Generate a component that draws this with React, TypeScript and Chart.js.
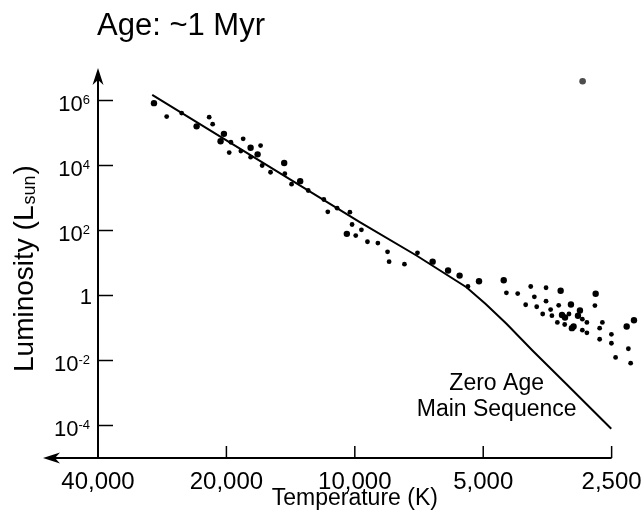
import { useEffect, useRef } from 'react';
import { Chart, registerables } from 'chart.js';

Chart.register(...registerables);

// ---------- text ----------
const chartTitle = 'Age: ~1 Myr';
const xAxisTitle = 'Temperature (K)';
const yAxisTitleMain = 'Luminosity (L';
const yAxisTitleSub = 'sun';
const yAxisTitleEnd = ')';
const annotationLines = ['Zero Age', 'Main Sequence'];

// ---------- axes ----------
const tempMin = 2180; // scale extends a little past the last tick (coolest stars)
const tempMax = 40000;
const lumMin = 1e-5;
const lumMax = 1e7;
const tempTicks = [40000, 20000, 10000, 5000, 2500];
const tempTickLabels = ['40,000', '20,000', '10,000', '5,000', '2,500'];
const lumTickExponents = [6, 4, 2, 0, -2, -4];

// ---------- Zero Age Main Sequence ----------
const zamsTemp = [29850, 9735, 7170, 5474, 4934, 4410, 3828, 3193, 2505];
const zamsLum = [1.5e6, 180, 17, 1.8, 0.55, 0.135, 0.02, 1.9e-3, 7.9e-5];

// annotation anchor (data coordinates)
const annotationTemp = 4650;
const annotationLum = 1.24e-3;

// ---------- stars (larger dots) ----------
const starTempLarge = [
  29570, 23490, 20270, 20640, 17550, 16900, 14640, 13430, 10440, 6570,
  6045, 5680, 5115, 4476, 3292, 3114, 3268, 3215, 2966, 2998,
  3070, 3098, 2725, 2305, 2216,
];
const starLumLarge = [
  8.3e5, 1.6e5, 9.4e4, 5.6e4, 3.5e4, 2.2e4, 1.2e4, 3.3e3, 79, 11,
  5.9, 4.1, 2.75, 2.96, 1.4, 0.53, 0.25, 0.21, 0.345, 0.237,
  0.111, 0.099, 1.13, 0.111, 0.174,
];

// ---------- stars (smaller dots) ----------
const starTempSmall = [
  27610, 25470, 21950, 21540, 19520, 19700, 18270, 18500, 17550, 16630,
  16490, 15760, 14590, 14070, 12860, 11820, 11570, 11000, 10270, 10150,
  9950, 9650, 9340, 8830, 8380, 8310, 7650, 7130, 5430, 4412,
  4151, 3869, 3794, 3562, 3562, 3976, 3746, 3475, 3327, 3627,
  3451, 3147, 2928, 3351, 3221, 2857, 2928, 2857, 2736, 2628,
  2667, 2667, 2503, 2503, 2447, 2284, 2256,
];
const starLumSmall = [
  3.2e5, 4.1e5, 3.06e5, 1.87e5, 5.2e4, 2.5e4, 6.6e4, 2.77e4, 1.8e4, 4.1e4,
  1.0e4, 6.2e3, 5.6e3, 2.66e3, 1.7e3, 900, 376, 485, 366, 153,
  70, 105, 45, 41, 22, 11, 9.2, 20.6, 1.9, 1.21,
  1.15, 1.89, 0.91, 1.73, 0.67, 0.52, 0.45, 0.37, 0.5, 0.27,
  0.24, 0.27, 0.187, 0.148, 0.128, 0.148, 0.0855, 0.071, 0.49, 0.148,
  0.099, 0.045, 0.064, 0.034, 0.0124, 0.023, 0.0083,
];

// ---------- outlier (grey) ----------
const outlierTemp = [2924];
const outlierLum = [3.93e6];

const FONT = '"Liberation Sans", Arial, Helvetica, sans-serif';

const toPoints = (xs: number[], ys: number[]) => xs.map((x, i) => ({ x, y: ys[i] }));

const hrPlugin = {
  id: 'hrDecor',
  afterDraw(chart: any) {
    const ctx: CanvasRenderingContext2D = chart.ctx;
    const xs = chart.scales.x;
    const ys = chart.scales.y;
    const x0 = xs.getPixelForValue(tempTicks[0]);
    const xEnd = xs.getPixelForValue(tempTicks[tempTicks.length - 1]);
    const yBase = ys.getPixelForValue(lumMin);
    const yTop = ys.getPixelForValue(lumMax);

    ctx.save();
    ctx.strokeStyle = '#000';
    ctx.fillStyle = '#000';

    // x axis line + arrow to the left
    const arrowX = x0 - 55;
    ctx.lineWidth = 2;
    ctx.beginPath();
    ctx.moveTo(xEnd, yBase);
    ctx.lineTo(arrowX + 8, yBase);
    ctx.stroke();
    ctx.beginPath();
    ctx.moveTo(arrowX, yBase);
    ctx.lineTo(arrowX + 17, yBase - 5.5);
    ctx.lineTo(arrowX + 12, yBase);
    ctx.lineTo(arrowX + 17, yBase + 5.5);
    ctx.closePath();
    ctx.fill();

    // y axis line + arrow up
    ctx.beginPath();
    ctx.moveTo(x0, yBase);
    ctx.lineTo(x0, yTop + 8);
    ctx.stroke();
    ctx.beginPath();
    ctx.moveTo(x0, yTop);
    ctx.lineTo(x0 - 5.5, yTop + 17);
    ctx.lineTo(x0, yTop + 12);
    ctx.lineTo(x0 + 5.5, yTop + 17);
    ctx.closePath();
    ctx.fill();

    // x ticks and labels
    ctx.lineWidth = 1.5;
    ctx.font = `24px ${FONT}`;
    ctx.textAlign = 'center';
    ctx.textBaseline = 'alphabetic';
    tempTicks.forEach((t, i) => {
      const px = xs.getPixelForValue(t);
      ctx.beginPath();
      ctx.moveTo(px, yBase);
      ctx.lineTo(px, yBase - 12);
      ctx.stroke();
      ctx.fillText(tempTickLabels[i], px, yBase + 31);
    });

    // y ticks and labels
    const labelRight = x0 - 8;
    lumTickExponents.forEach((e) => {
      const py = ys.getPixelForValue(Math.pow(10, e));
      ctx.beginPath();
      ctx.moveTo(x0, py);
      ctx.lineTo(x0 + 15, py);
      ctx.stroke();
      ctx.textAlign = 'right';
      if (e === 0) {
        ctx.font = `22px ${FONT}`;
        ctx.fillText('1', labelRight + 2, py + 8);
      } else {
        const sup = String(e);
        ctx.font = `13px ${FONT}`;
        const supW = ctx.measureText(sup).width;
        const base = py + 10;
        ctx.fillText(sup, labelRight, base - 6.5);
        ctx.font = `22px ${FONT}`;
        ctx.fillText('10', labelRight - supW, base);
      }
    });

    // x axis title
    ctx.textAlign = 'center';
    ctx.font = `23px ${FONT}`;
    ctx.fillText(xAxisTitle, (x0 + xEnd) / 2, yBase + 47);

    // y axis title (rotated)
    ctx.save();
    ctx.translate(32.5, 372);
    ctx.rotate(-Math.PI / 2);
    ctx.textAlign = 'left';
    ctx.font = `28px ${FONT}`;
    ctx.fillText(yAxisTitleMain, 0, 0);
    let w = ctx.measureText(yAxisTitleMain).width;
    ctx.font = `18px ${FONT}`;
    ctx.fillText(yAxisTitleSub, w + 1, 2);
    w += 1 + ctx.measureText(yAxisTitleSub).width;
    ctx.font = `28px ${FONT}`;
    ctx.fillText(yAxisTitleEnd, w + 1, 0);
    ctx.restore();

    // chart title
    ctx.textAlign = 'left';
    ctx.font = `31px ${FONT}`;
    ctx.fillText(chartTitle, x0 - 1, 35);

    // ZAMS annotation
    ctx.textAlign = 'center';
    ctx.font = `23px ${FONT}`;
    const ax = xs.getPixelForValue(annotationTemp);
    const ay = ys.getPixelForValue(annotationLum);
    annotationLines.forEach((line, i) => ctx.fillText(line, ax, ay + i * 26));

    ctx.restore();
  },
};

export default function App() {
  const canvasRef = useRef<HTMLCanvasElement | null>(null);

  useEffect(() => {
    const canvas = canvasRef.current;
    if (!canvas) return;
    const chart = new Chart(canvas, {
      type: 'scatter',
      data: {
        datasets: [
          {
            label: 'Zero Age Main Sequence',
            data: toPoints(zamsTemp, zamsLum),
            showLine: true,
            borderColor: '#000',
            borderWidth: 2,
            pointRadius: 0,
            tension: 0,
            fill: false,
            clip: false,
          } as any,
          {
            label: 'Stars (large)',
            data: toPoints(starTempLarge, starLumLarge),
            backgroundColor: '#000',
            borderColor: '#000',
            borderWidth: 0,
            pointRadius: 3.2,
            clip: false,
          } as any,
          {
            label: 'Stars (small)',
            data: toPoints(starTempSmall, starLumSmall),
            backgroundColor: '#000',
            borderColor: '#000',
            borderWidth: 0,
            pointRadius: 2.4,
            clip: false,
          } as any,
          {
            label: 'Outlier',
            data: toPoints(outlierTemp, outlierLum),
            backgroundColor: '#4d4d4d',
            borderColor: '#4d4d4d',
            borderWidth: 0,
            pointRadius: 3.3,
            clip: false,
          } as any,
        ],
      },
      options: {
        animation: false,
        responsive: false,
        events: [],
        layout: { padding: { left: 98, right: 6, top: 68, bottom: 60 } },
        plugins: {
          legend: { display: false },
          tooltip: { enabled: false },
          title: { display: false },
        },
        scales: {
          x: {
            type: 'logarithmic',
            reverse: true,
            min: tempMin,
            max: tempMax,
            display: false,
          },
          y: {
            type: 'logarithmic',
            min: lumMin,
            max: lumMax,
            display: false,
          },
        },
      },
      plugins: [hrPlugin],
    });
    return () => chart.destroy();
  }, []);

  return (
    <div style={{ position: 'fixed', left: 0, top: 0, width: 643, height: 518, background: '#fff' }}>
      <canvas ref={canvasRef} width={643} height={518} style={{ display: 'block' }} />
    </div>
  );
}
